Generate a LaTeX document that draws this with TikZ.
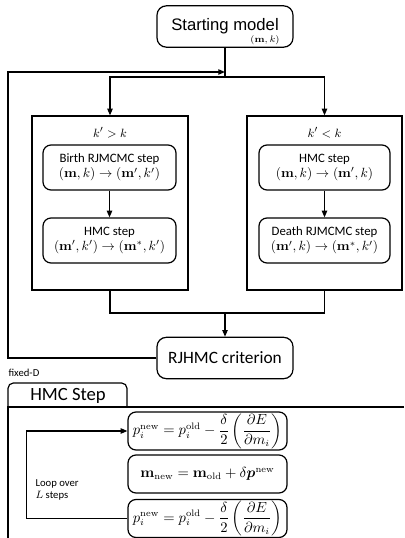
\documentclass[tikz,border=0pt]{standalone}
\usepackage{amsmath,bm}
\usepackage[no-math]{fontspec}
\setmainfont{Carlito}
\newfontfamily\arialfont{Liberation Sans}
\usetikzlibrary{arrows.meta,positioning,calc}

\begin{document}
\begin{tikzpicture}[x=0.75pt,y=-0.75pt, line width=0.9pt,
  >={Triangle[length=5pt,width=4pt]},
  stepbox/.style={draw, rounded corners=6pt, minimum width=99.75pt, minimum height=33.75pt,
    align=center, inner sep=0pt, font=\fontsize{9.6}{11.5}\selectfont},
  bigbox/.style={draw, minimum width=117pt, minimum height=130.5pt, inner sep=0pt},
  mainbox/.style={draw, rounded corners=7pt, minimum width=102pt, minimum height=31pt, inner sep=0pt},
  eqbox/.style={draw, rounded corners=6pt, minimum width=119.25pt, minimum height=28.5pt,
    inner sep=0pt, font=\fontsize{10.5}{12}\selectfont},
  small/.style={font=\fontsize{8}{9}\selectfont, inner sep=0pt}]
\useasboundingbox (0,0) rectangle (404,538);
%top part
\node[mainbox, font=\arialfont\fontsize{12.5}{14}\selectfont] (start) at (225,26.5) {Starting model};
\node[inner sep=0pt, font=\fontsize{7}{8}\selectfont] (mk) at (265,40) {$(\mathbf{m},k)$};
\coordinate (j1) at (225,72);
\coordinate (j2) at (225,77);
\coordinate (lp) at (8,72);

\node[bigbox] (left) at (110,203) {};
\node[bigbox, minimum width=116.25pt] (right) at (324.5,203) {};
\node[inner sep=0pt, font=\fontsize{9.5}{11}\selectfont] (kl) at (110,133) {$k' > k$};
\node[inner sep=0pt, font=\fontsize{9.5}{11}\selectfont] (kr) at (324.5,133) {$k' < k$};

\node[stepbox] (birth) at (109.5,167.5) {Birth RJMCMC step\\$(\mathbf{m},k)\to(\mathbf{m}',k')$};
\node[stepbox] (hmcl) at (109.5,240.5) {HMC step\\$(\mathbf{m}',k')\to(\mathbf{m}^{*},k')$};
\node[stepbox, minimum width=98.25pt] (hmcr) at (324.5,167.5) {HMC step\\$(\mathbf{m},k)\to(\mathbf{m}',k)$};
\node[stepbox, minimum width=98.25pt] (death) at (324.5,240.5) {Death RJMCMC step\\$(\mathbf{m}',k)\to(\mathbf{m}^{*},k')$};

\coordinate (j3) at (225,313);
\node[mainbox, font=\fontsize{13}{15}\selectfont] (crit) at (225,358) {RJHMC criterion};

\draw (start) -- (j2);
\draw[->] (j2) -| (left.north);
\draw[->] (j2) -| (right.north);
\draw[->] (birth) -- (hmcl);
\draw[->] (hmcr) -- (death);
\draw (left.south) |- (j3);
\draw (right.south) |- (j3);
\draw[->] (j3) -- (crit);
\draw[->] (crit.west) -| (lp) -- (j1);

%HMC step panel
\node[small, anchor=west] (fd) at (8,373) {fixed-D};
\draw[rounded corners=4pt] (8,407) -- (8,383) -- (127,383) -- (127,407);
\draw (404,407) -- (8,407) -- (8,538);
\node[inner sep=0pt, font=\fontsize{14}{16}\selectfont] (tab) at (68,396) {HMC Step};

\node[eqbox] (f1) at (207.5,431) {$p_i^{\mathrm{new}} = p_i^{\mathrm{old}} - \dfrac{\delta}{2}\left(\dfrac{\partial E}{\partial m_i}\right)$};
\node[eqbox] (f2) at (207.5,474) {$\mathbf{m}_{\mathrm{new}} = \mathbf{m}_{\mathrm{old}} + \delta\bm{p}^{\mathrm{new}}$};
\node[eqbox] (f3) at (207.5,518.5) {$p_i^{\mathrm{new}} = p_i^{\mathrm{old}} - \dfrac{\delta}{2}\left(\dfrac{\partial E}{\partial m_i}\right)$};
\node[small, anchor=west, align=left] (loop) at (35,490) {Loop over\\$L$ steps};
\draw[->] (f3.west) -- ++(-101,0) |- (f1.west);
\end{tikzpicture}
\end{document}
